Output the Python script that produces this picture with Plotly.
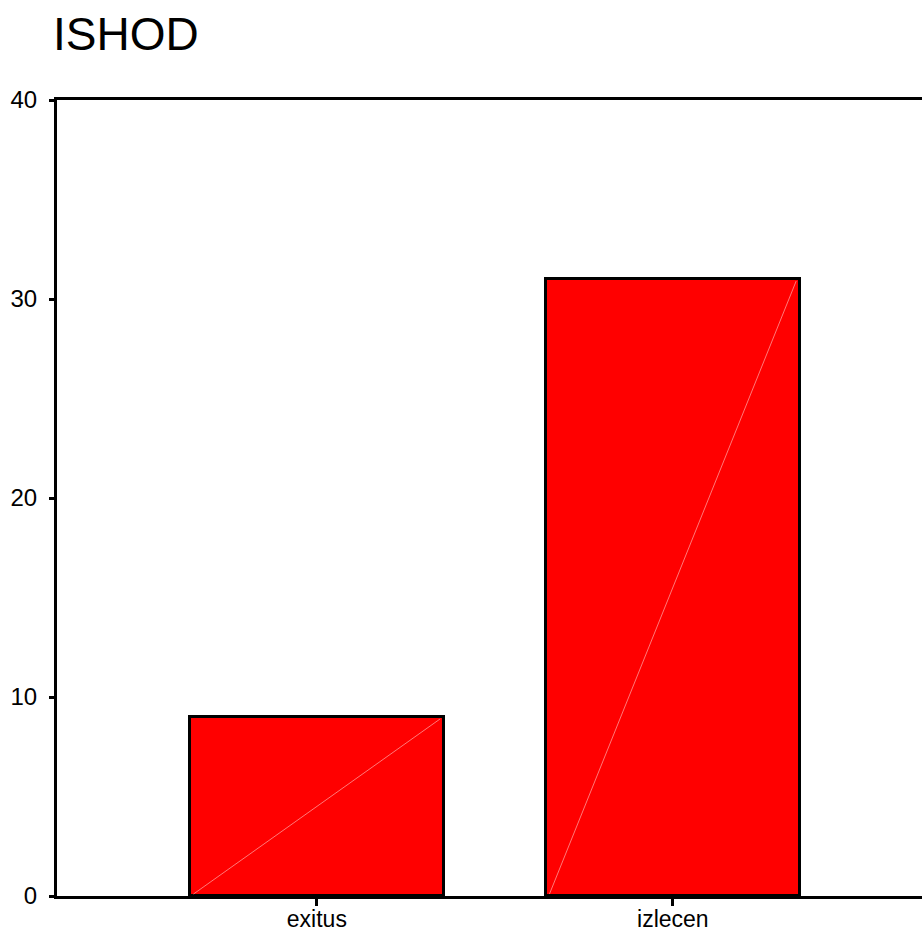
import plotly.graph_objects as go

categories = ["exitus", "izlecen"]
counts = [9, 31]
y_ticks = [0, 10, 20, 30, 40]
title_text = "ISHOD"

FONT = "Liberation Sans, Arial, sans-serif"
bar_width = 0.713
xpos = list(range(len(categories)))

fig = go.Figure()
fig.add_trace(go.Bar(
    x=xpos, y=counts, width=bar_width,
    marker=dict(color="#ff0000", line=dict(color="black", width=3)),
    hoverinfo="x+y", showlegend=False,
))
# faint diagonal highlight inside each bar, derived from data
for i, v in zip(xpos, counts):
    fig.add_trace(go.Scatter(
        x=[i - bar_width / 2 + 0.01, i + bar_width / 2 - 0.01], y=[0.1, v - 0.1],
        mode="lines", line=dict(color="rgba(255,150,150,0.8)", width=1),
        hoverinfo="skip", showlegend=False,
    ))

W, H = 922, 932
fig.update_layout(
    width=W, height=H,
    margin=dict(l=57, r=0, t=100, b=36),
    plot_bgcolor="white", paper_bgcolor="white",
    font=dict(family=FONT, color="black", size=24),
    title=dict(text=title_text, font=dict(family=FONT, size=46, color="black"),
               x=53 / W, xanchor="left", xref="container",
               y=1 - 34 / H, yanchor="middle", yref="container", automargin=False),
    bargap=0,
)
fig.update_xaxes(
    range=[-0.73, 1.70], tickvals=xpos, ticktext=categories, automargin=False,
    showline=True, linecolor="black", linewidth=3, mirror=True,
    ticks="outside", ticklen=7, tickwidth=3, tickcolor="black",
    showgrid=False, zeroline=False, tickfont=dict(size=23, family=FONT),
    ticklabelstandoff=-7,
)
fig.update_yaxes(
    range=[0, 40], tickvals=y_ticks, automargin=False,
    showline=True, linecolor="black", linewidth=3,
    ticks="outside", ticklen=5, tickwidth=3, tickcolor="black",
    showgrid=False, zeroline=False, tickfont=dict(size=24, family=FONT),
    ticklabelstandoff=7,
)

fig.write_html(
    "out.html",
    config={"displayModeBar": False},
    post_script="document.body.style.margin='0';document.body.style.overflow='hidden';",
)
